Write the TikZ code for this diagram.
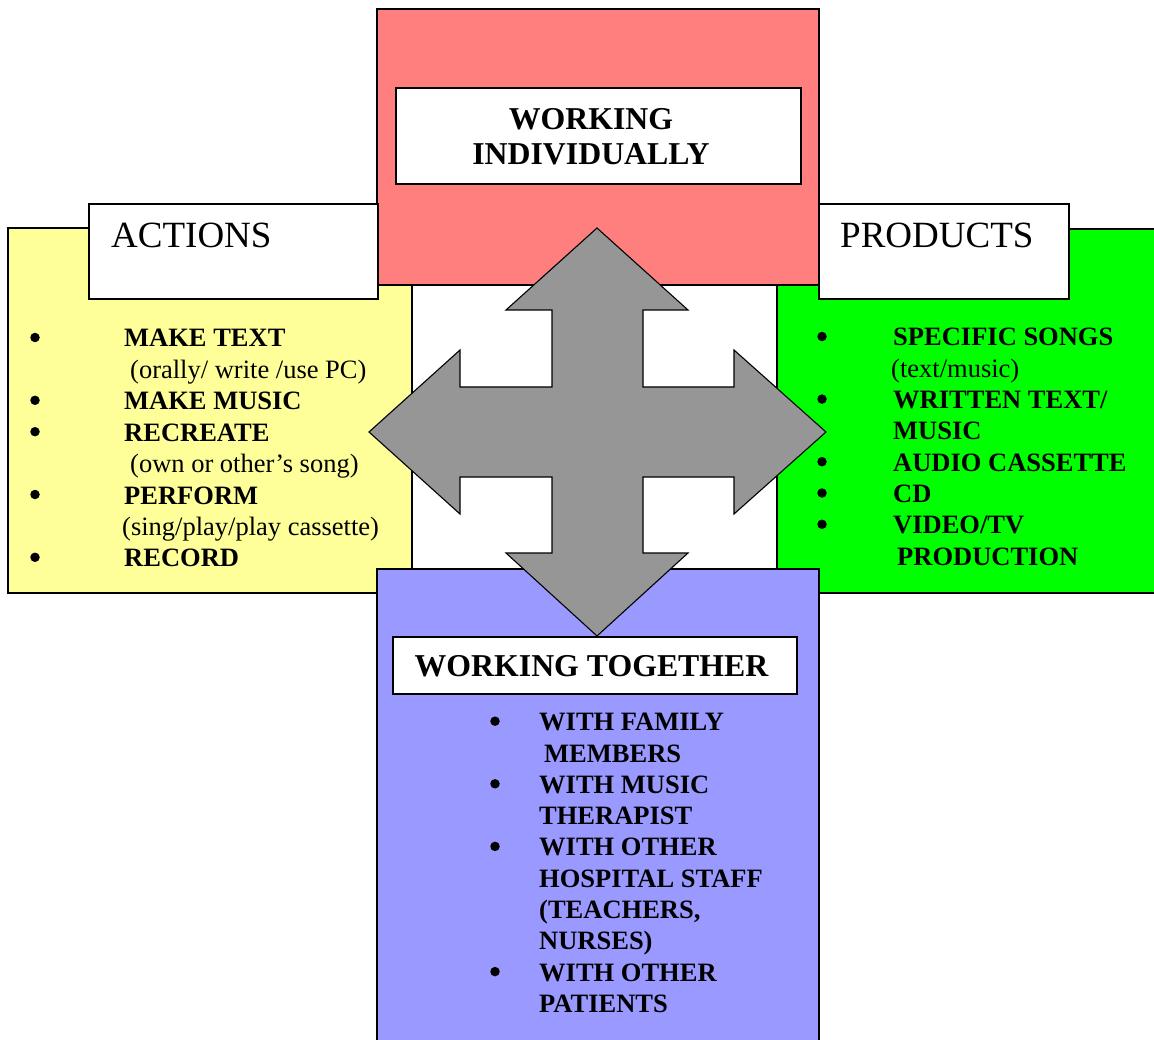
\documentclass[tikz,border=0pt]{standalone}
\usepackage{fontspec}
\setmainfont{Liberation Serif}
\definecolor{indivred}{HTML}{FF7F7F}
\definecolor{actyellow}{HTML}{FFFF99}
\definecolor{prodgreen}{HTML}{00FF00}
\definecolor{togblue}{HTML}{9999FF}
\definecolor{arrowgray}{HTML}{969696}

\begin{document}
\begin{tikzpicture}[x=1pt,y=-1pt,
  box/.style={draw=black,line width=1.1pt},
  titletxt/.style={inner sep=0pt,font=\bfseries\fontsize{31.8}{35}\selectfont},
  headtxt/.style={anchor=base west,inner sep=0pt,font=\fontsize{37}{40}\selectfont},
  listtxt/.style={anchor=base west,inner sep=0pt,font=\bfseries\fontsize{26.5}{31.3}\selectfont},
  subtxt/.style={listtxt,font=\fontsize{26.5}{31.3}\selectfont},
  bul/.style={circle,fill=black,inner sep=0pt,minimum size=9.5pt}]
\useasboundingbox (0,0) rectangle (1154,1040);
\clip (0,0) rectangle (1154,1040);

% Coloured panels
\filldraw[box,fill=actyellow] (8,228) rectangle (412,593);
\filldraw[box,fill=prodgreen] (777,229) rectangle (1170,593);
\filldraw[box,fill=indivred] (377,9) rectangle (819,285);
\filldraw[box,fill=togblue] (377,569) rectangle (819,1060);

% Heading boxes of the side panels
\filldraw[box,fill=white] (89,204) rectangle (378,299);
\filldraw[box,fill=white] (819,204) rectangle (1069,299);
\node[headtxt] (actions) at (111,248) {ACTIONS};
\node[headtxt] (products) at (840,248) {PRODUCTS};

% Four way arrow
\filldraw[box,fill=arrowgray] (597,228) -- (688,310) -- (643,310) -- (643,387)
  -- (734,387) -- (734,350) -- (826,432) -- (734,514) -- (734,477) -- (643,477)
  -- (643,553) -- (688,553) -- (597,636) -- (506,553) -- (552,553) -- (552,477)
  -- (460,477) -- (460,514) -- (369,432) -- (460,350) -- (460,387) -- (552,387)
  -- (552,310) -- (506,310) -- cycle;

% Title boxes
\node[box,fill=white,minimum width=405pt,minimum height=96pt] (indivbox) at (598.5,136) {};
\node[titletxt,align=center] (indiv) at (591,137) {WORKING\\INDIVIDUALLY};
\node[box,fill=white,minimum width=404pt,minimum height=57pt] (togbox) at (595,665.5) {};
\node[titletxt,anchor=base] (together) at (591.5,676) {WORKING TOGETHER};

% Actions list
\node[listtxt] (maketext) at (124,347) {MAKE TEXT};
\node[subtxt] (orally) at (130,378.4) {(orally/ write /use PC)};
\node[listtxt] (makemusic) at (124,409.8) {MAKE MUSIC};
\node[listtxt] (recreate) at (124,441.2) {RECREATE};
\node[subtxt] (ownsong) at (130,472.6) {(own or other’s song)};
\node[listtxt] (perform) at (124,504) {PERFORM};
\node[subtxt] (singplay) at (122,535.4) {(sing/play/play cassette)};
\node[listtxt] (record) at (124,566.8) {RECORD};
\foreach \y [count=\i] in {347,409.8,441.2,504,566.8}
  \node[bul] (abul\i) at (35,\y-9.5) {};

% Products list
\node[listtxt] (songs) at (893,346) {SPECIFIC SONGS};
\node[subtxt] (textmusic) at (891,377.3) {(text/music)};
\node[listtxt] (written) at (893,408.6) {WRITTEN TEXT/};
\node[listtxt] (music) at (893,439.9) {MUSIC};
\node[listtxt] (cassette) at (893,471.2) {AUDIO CASSETTE};
\node[listtxt] (cd) at (893,502.5) {CD};
\node[listtxt] (video) at (893,533.8) {VIDEO/TV};
\node[listtxt] (production) at (897,565.1) {PRODUCTION};
\foreach \y [count=\i] in {346,408.6,471.2,502.5,533.8}
  \node[bul] (pbul\i) at (822,\y-9.5) {};

% Together list
\node[listtxt] (family) at (539,730.7) {WITH FAMILY};
\node[listtxt] (members) at (544,762) {MEMBERS};
\node[listtxt] (withmusic) at (539,793.3) {WITH MUSIC};
\node[listtxt] (therapist) at (539,824.6) {THERAPIST};
\node[listtxt] (other) at (539,855.9) {WITH OTHER};
\node[listtxt] (staff) at (539,887.2) {HOSPITAL STAFF};
\node[listtxt] (teachers) at (539,918.5) {(TEACHERS,};
\node[listtxt] (nurses) at (539,949.8) {NURSES)};
\node[listtxt] (otherpat) at (539,981.1) {WITH OTHER};
\node[listtxt] (patients) at (539,1012.4) {PATIENTS};
\foreach \y [count=\i] in {730.7,793.3,855.9,981.1}
  \node[bul] (tbul\i) at (495,\y-9.5) {};
\end{tikzpicture}
\end{document}
